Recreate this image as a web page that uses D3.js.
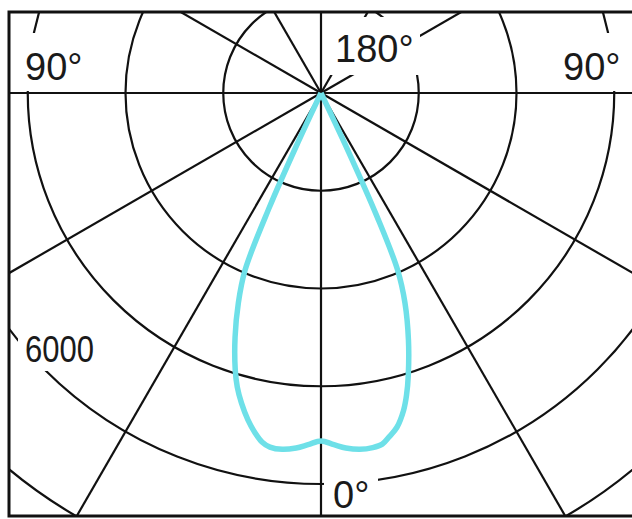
<!DOCTYPE html>
<html>
<head>
<meta charset="utf-8">
<script src="https://cdn.jsdelivr.net/npm/d3@7"></script>
<style>
  html, body { margin: 0; padding: 0; background: #fff; }
  svg { display: block; }
  text { font-family: "Liberation Sans", Arial, sans-serif; fill: #1a1a1a; }
</style>
</head>
<body>
<svg id="chart" width="632" height="519"></svg>
<script>
// ---- data (luminous intensity, cd) ----
const ringValues = [1500, 3000, 4500, 6000, 7500];
const spokeAngles = [-150, -120, -90, -60, -30, 0, 30, 60, 90, 120, 150, 180];
// left half (C180 side), angle from nadir in degrees
const anglesLeft     = [0, 2.1, 4.0, 6.2, 8.2, 9.6, 11.0, 12.6, 14.4, 15.9, 17.2, 19.4, 21.5, 23.2, 24.3, 25.0, 25.6];
const intensityLeft  = [5340, 5400, 5460, 5500, 5490, 5430, 5310, 5140, 4910, 4690, 4450, 3970, 3460, 2960, 1920, 840, 0];
// right half (C0 side)
const anglesRight    = [0, 2.1, 4.0, 6.2, 8.3, 9.9, 11.2, 12.8, 14.6, 15.8, 17.2, 19.5, 21.8, 23.4, 24.4, 25.1, 25.7];
const intensityRight = [5340, 5400, 5460, 5500, 5500, 5470, 5380, 5260, 5030, 4820, 4530, 4020, 3470, 2960, 2070, 1000, 0];
const angleLabels = ["90°", "180°", "90°", "0°"];
const valueLabel = "6000";

// ---- layout ----
const W = 632, H = 519;
const cx = 321, cy = 93;
const frame = { x0: 9, y0: 12, x1: 650, y1: 516 };

const svg = d3.select("#chart");
const r = d3.scaleLinear().domain([0, 7500]).range([0, 488.75]);
const rad = d => d * Math.PI / 180;

svg.append("rect").attr("width", W).attr("height", H).attr("fill", "#fff");

svg.append("clipPath").attr("id", "clip")
  .append("rect")
  .attr("x", frame.x0).attr("y", frame.y0)
  .attr("width", frame.x1 - frame.x0).attr("height", frame.y1 - frame.y0);

const g = svg.append("g").attr("clip-path", "url(#clip)");

// rings
g.selectAll("circle.ring").data(ringValues).enter().append("circle")
  .attr("class", "ring")
  .attr("cx", cx).attr("cy", cy)
  .attr("r", d => r(d))
  .attr("fill", "none").attr("stroke", "#111").attr("stroke-width", 2.2);

// spokes (angle measured from downward vertical, positive to the right)
const L = 900;
g.selectAll("line.spoke").data(spokeAngles).enter().append("line")
  .attr("class", "spoke")
  .attr("x1", cx).attr("y1", cy)
  .attr("x2", d => cx + L * Math.sin(rad(d)))
  .attr("y2", d => cy + L * Math.cos(rad(d)))
  .attr("stroke", "#111").attr("stroke-width", 2.2);

// white label backgrounds hiding the grid
const masks = [
  { x: 20, y: 33, w: 68, h: 58 },
  { x: 558, y: 33, w: 68, h: 58 },
  { x: 329, y: 17, w: 91, h: 58 },
  { x: 18, y: 333, w: 84, h: 38 },
  { x: 324, y: 470, w: 54, h: 44 }
];
g.selectAll("rect.mask").data(masks).enter().append("rect")
  .attr("class", "mask")
  .attr("x", d => d.x).attr("y", d => d.y)
  .attr("width", d => d.w).attr("height", d => d.h)
  .attr("fill", "#fff");

// frame
svg.append("path")
  .attr("d", `M${W + 5},${frame.y0}H${frame.x0}V${frame.y1}H${W + 5}`)
  .attr("fill", "none").attr("stroke", "#111").attr("stroke-width", 3);

// intensity curve
const pts = [];
for (let i = anglesLeft.length - 1; i >= 0; i--) pts.push({ a: -anglesLeft[i], v: intensityLeft[i] });
for (let i = 1; i < anglesRight.length; i++) pts.push({ a: anglesRight[i], v: intensityRight[i] });

const line = d3.lineRadial()
  .angle(d => Math.PI - rad(d.a))
  .radius(d => r(d.v))
  .curve(d3.curveCatmullRom.alpha(0.5));

svg.append("path")
  .datum(pts)
  .attr("transform", `translate(${cx},${cy})`)
  .attr("d", line)
  .attr("fill", "none")
  .attr("stroke", "#6ee0e8")
  .attr("stroke-width", 5.5)
  .attr("stroke-linejoin", "round");

// labels
const labelPos = [
  { x: 25, y: 80, size: 38 },
  { x: 335, y: 62, size: 38 },
  { x: 563, y: 80, size: 38 },
  { x: 333, y: 508, size: 38 }
];
svg.selectAll("text.ang").data(angleLabels).enter().append("text")
  .attr("class", "ang")
  .attr("x", (d, i) => labelPos[i].x)
  .attr("y", (d, i) => labelPos[i].y)
  .attr("font-size", (d, i) => labelPos[i].size)
  .text(d => d);

svg.append("text")
  .attr("x", 25).attr("y", 362)
  .attr("font-size", 36)
  .attr("textLength", 69)
  .attr("lengthAdjust", "spacingAndGlyphs")
  .text(valueLabel);
</script>
</body>
</html>
